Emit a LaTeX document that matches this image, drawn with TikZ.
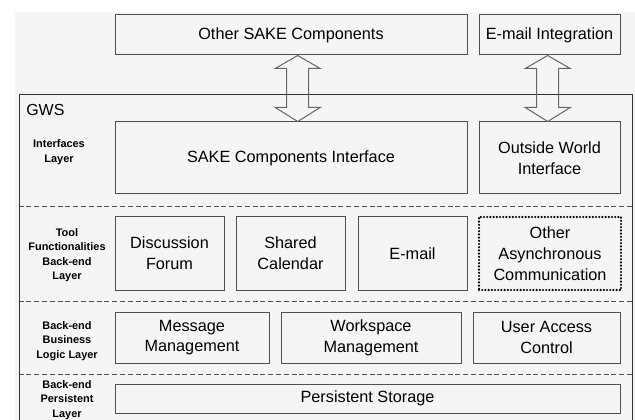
\documentclass[tikz,border=0pt]{standalone}
\usepackage{fontspec}
\setmainfont{Liberation Sans}
\usetikzlibrary{calc}

\definecolor{bg}{RGB}{245,245,245}
\definecolor{ln}{RGB}{80,80,80}

\tikzset{
  blk/.style={draw=ln, line width=0.75pt, fill=bg, align=center, inner sep=0pt,
    font=\fontsize{12.2}{15.6}\selectfont},
  lay/.style={align=center, inner sep=0pt, font=\fontsize{8.2}{10.9}\selectfont\bfseries},
  sep/.style={draw=ln, line width=0.75pt, dash pattern=on 3.75pt off 2.1pt},
  hollow/.style={draw=black!60, line width=0.75pt, line join=miter}
}

\begin{document}
\begin{tikzpicture}[x=0.75pt, y=-0.75pt]
\useasboundingbox (0,0) rectangle (635,420);
\fill[bg] (15,12) rectangle (635,420);

% outside GWS
\node (other) [blk, minimum width=264pt, minimum height=30pt] at (291,35) {Other SAKE Components};
\node (emailint) [blk, minimum width=105.75pt, minimum height=30pt] at (549.5,35) {E-mail Integration};

% GWS frame
\node (gws) [draw=black!80, line width=0.75pt, minimum width=459.75pt, minimum height=247.5pt, inner sep=0pt] at (325.5,260) {};
\node (gwslbl) [anchor=west, inner sep=0pt, font=\fontsize{12}{14}\selectfont] at (26,110) {GWS};

\foreach \yy in {207,301,374}
  \draw[sep] (gws.west |- 0,\yy) -- (gws.east |- 0,\yy);

% layer names
\node (l1) [lay] at (59,152) {Interfaces\\Layer};
\node (l2) [lay] at (67,255) {Tool\\Functionalities\\Back-end\\Layer};
\node (l3) [lay] at (67,341) {Back-end\\Business\\Logic Layer};
\node (l4) [lay] at (67,400) {Back-end\\Persistent\\Layer};

% interfaces
\node (sakeif) [blk, minimum width=264pt, minimum height=54pt] at (291,158) {SAKE Components Interface};
\node (outside) [blk, minimum width=105.75pt, minimum height=54pt] at (549.5,158) {Outside World\\Interface};

% tools
\node (forum) [blk, minimum width=81.75pt, minimum height=54.75pt] at (169.5,253.5) {Discussion\\Forum};
\node (calendar) [blk, minimum width=81.75pt, minimum height=54.75pt] at (290.5,253.5) {Shared\\Calendar};
\node (email) [blk, minimum width=81.75pt, minimum height=54.75pt] at (412.5,253.5) {E-mail};
\node (async) [blk, draw=black, line width=1.8pt, dash pattern=on 0pt off 2.4pt, line cap=round,
  minimum width=106.5pt, minimum height=54.75pt] at (550,253.5) {Other\\Asynchronous\\Communication};

% business logic
\node (msg) [blk, minimum width=115.5pt, minimum height=38.25pt] at (192,337.5) {Message\\Management};
\node (wks) [blk, minimum width=135pt, minimum height=38.25pt] at (371,337.5) {Workspace\\Management};
\node (uac) [blk, minimum width=110.25pt, minimum height=38.25pt] at (546.5,337.5) {User Access\\Control};

% persistence
\node (storage) [blk, minimum width=378.75pt, minimum height=21.75pt] at (367.5,398.5) {Persistent Storage};

% hollow double arrows
\foreach \a/\b/\dx in {other/sakeif/6.7, emailint/outside/-1.8}
  \draw[hollow] ($(\a.south)+(\dx,0)$) -- ++(22.5,13) -- ++(-11.5,0)
    -- ($(\b.north)+(\dx+11,-14)$) -- ++(11.5,0) -- ($(\b.north)+(\dx,0)$)
    -- ++(-22.5,-14) -- ++(11.5,0) -- ($(\a.south)+(\dx-11,13)$) -- ++(-11.5,0) -- cycle;

\end{tikzpicture}
\end{document}
